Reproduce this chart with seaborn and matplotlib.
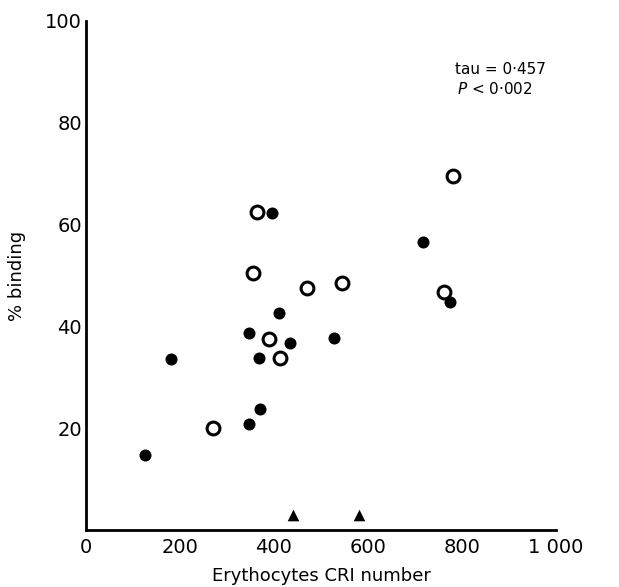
import matplotlib
matplotlib.use('Agg')
import matplotlib.pyplot as plt
import seaborn as sns

# filled circles
filled_x = [395, 411, 346, 433, 527, 180, 369, 370, 347, 126, 718, 775]
filled_y = [62.2, 42.6, 38.8, 36.7, 37.7, 33.6, 33.7, 23.7, 20.8, 14.7, 56.6, 44.7]
# open circles
open_x = [363, 355, 471, 545, 389, 413, 270, 780, 762]
open_y = [62.5, 50.4, 47.5, 48.5, 37.6, 33.7, 20.0, 69.6, 46.8]
# triangles
tri_x = [441, 580]
tri_y = [2.9, 2.9]

xticks = [0, 200, 400, 600, 800, 1000]
xticklabels = ['0', '200', '400', '600', '800', '1 000']
yticks = [20, 40, 60, 80, 100]

sns.set_style('white')
plt.rcParams['font.family'] = ['DejaVu Sans']
plt.rcParams['text.color'] = 'black'
plt.rcParams['axes.labelcolor'] = 'black'
plt.rcParams['xtick.color'] = 'black'
plt.rcParams['ytick.color'] = 'black'

fig = plt.figure(figsize=(6.19, 5.87), dpi=100)
ax = fig.add_axes([86 / 619, 1 - 530 / 587, 470 / 619, 509 / 587])

sns.scatterplot(x=filled_x, y=filled_y, ax=ax, color='black', marker='o', s=75,
                edgecolor='black', linewidth=0)
sns.scatterplot(x=open_x, y=open_y, ax=ax, marker='o', s=85, facecolor='white',
                edgecolor='black', linewidth=2.2)
sns.scatterplot(x=tri_x, y=tri_y, ax=ax, color='black', marker='^', s=70,
                edgecolor='black', linewidth=0)

ax.set_xlim(0, 1000)
ax.set_ylim(0, 100)
ax.set_xticks(xticks)
ax.set_xticklabels(xticklabels)
ax.set_yticks(yticks)
ax.tick_params(axis='both', direction='in', length=8, width=2, labelsize=14)
ax.tick_params(axis='x', pad=6)
ax.tick_params(axis='y', pad=3)

for side in ['top', 'right']:
    ax.spines[side].set_visible(False)
for side in ['left', 'bottom']:
    ax.spines[side].set_linewidth(2)
    ax.spines[side].set_color('black')

ax.set_xlabel('Erythocytes CRI number', fontsize=13, labelpad=7)
ax.set_ylabel('% binding', fontsize=13, labelpad=14)

ax.text(0.785, 0.904, 'tau = 0·457', transform=ax.transAxes, fontsize=11, va='center')
ax.text(0.79, 0.866, '$P$ < 0·002', transform=ax.transAxes, fontsize=11, va='center')

plt.savefig('out.png', dpi=100)
